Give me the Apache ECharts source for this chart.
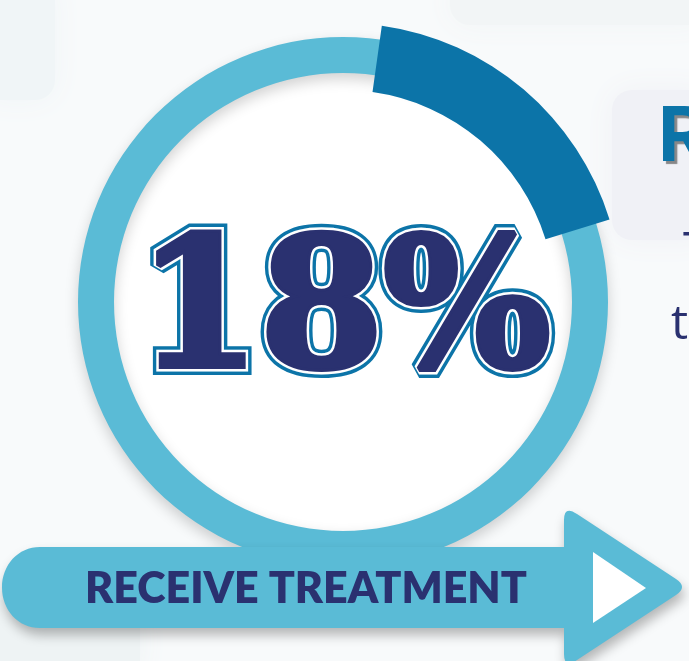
<!DOCTYPE html>
<html>
<head>
<meta charset="utf-8">
<script src="https://cdn.jsdelivr.net/npm/echarts@6/dist/echarts.min.js"></script>
<style>
html,body{margin:0;padding:0;background:#f7f9fa;}
#chart{width:689px;height:661px;}
</style>
</head>
<body>
<div id="chart"></div>
<script>
// ---- data ----
const shareValues = [18];            // % who receive treatment
const shareLabels = ['18%'];
const categoryLabels = ['RECEIVE TREATMENT'];
const sideHeading = ['RECEIVE'];
const sideText = ['T', 'treatment'];

const NAVY = '#2a3170';
const DARK = '#0c74a8';
const LIGHT = '#5abbd6';
const cx = 343, cy = 302;

echarts.graphic.registerShape('arrowBanner', echarts.graphic.extendShape({
  shape: {},
  buildPath: function (ctx) {
    ctx.moveTo(40, 547);
    ctx.lineTo(564, 547);
    ctx.lineTo(564, 520);
    ctx.quadraticCurveTo(564, 505, 577, 514);
    ctx.lineTo(676, 579);
    ctx.quadraticCurveTo(688, 587, 676, 595);
    ctx.lineTo(577, 660);
    ctx.quadraticCurveTo(564, 669, 564, 654);
    ctx.lineTo(564, 628);
    ctx.lineTo(40, 628);
    ctx.bezierCurveTo(18, 628, 2, 610, 2, 587.5);
    ctx.bezierCurveTo(2, 565, 18, 547, 40, 547);
    ctx.closePath();
  }
}));

const chart = echarts.init(document.getElementById('chart'));

const bigText = shareLabels[0];

function bigLayer(stroke, lw, z) {
  return {
    type: 'text', x: 344, y: 319, scaleX: 0.98, z: z,
    style: {
      text: bigText, x: 0, y: 0,
      font: 'bold 180px "DejaVu Serif"',
      fill: NAVY,
      stroke: stroke, lineWidth: lw,
      textAlign: 'center', textVerticalAlign: 'middle',
      align: 'center', verticalAlign: 'middle', lineJoin: 'round'
    }
  };
}

function softPatch(x, y, w, h, color) {
  return { type: 'rect', z: -5, shape: { x: x, y: y, width: w, height: h, r: 20 },
    style: { fill: color, shadowBlur: 30, shadowColor: color } };
}

chart.setOption({
  backgroundColor: '#f8fafb',
  animation: false,
  graphic: [
    // faint background patches
    softPatch(-20, -20, 75, 120, '#f0f5f7'),
    softPatch(450, -20, 260, 45, '#f2f5f6'),
    softPatch(612, 90, 100, 150, '#f0f1f6'),
    softPatch(-20, 600, 160, 80, '#eef3f4'),
    // inner white disk
    { type: 'circle', z: 1, shape: { cx: cx, cy: cy, r: 230 }, style: { fill: '#ffffff' } },
    // side texts (cut off)
    { type: 'text', z: 3, x: 658, y: 100,
      style: { text: sideHeading[0], font: 'bold 76px Inter', fill: DARK,
        textShadowColor: 'rgba(90,90,90,0.7)', textShadowOffsetX: 3, textShadowOffsetY: 3, textShadowBlur: 1,
        textVerticalAlign: 'top', verticalAlign: 'top' } },
    { type: 'text', z: 3, x: 683, y: 228,
      style: { text: sideText[0], font: '500 48px "Open Sans"', fill: NAVY, textVerticalAlign: 'top', verticalAlign: 'top' } },
    { type: 'text', z: 3, x: 671, y: 301,
      style: { text: sideText[1], font: '500 48px "Open Sans"', fill: NAVY, textVerticalAlign: 'top', verticalAlign: 'top' } },
    // arrow
    { type: 'arrowBanner', z: 10, shape: {},
      style: { fill: LIGHT, shadowBlur: 12, shadowOffsetY: 7, shadowOffsetX: 2, shadowColor: 'rgba(0,0,0,0.28)' } },
    { type: 'polygon', z: 11, shape: { points: [[593, 552], [646, 588], [593, 623]] }, style: { fill: '#ffffff' } },
    { type: 'text', z: 12, x: 306, y: 589,
      style: { text: categoryLabels[0], font: '800 43px Lato', fill: NAVY,
        textAlign: 'center', textVerticalAlign: 'middle', align: 'center', verticalAlign: 'middle' } },
    // big percentage with double outline
    bigLayer(DARK, 18, 20),
    bigLayer('#ffffff', 11, 21),
    bigLayer(NAVY, 6, 22)
  ],
  series: [
    {
      type: 'pie', silent: true, z: 2,
      center: [cx, cy], radius: [229, 265],
      label: { show: false }, labelLine: { show: false },
      emphasis: { disabled: true },
      itemStyle: { color: LIGHT, shadowBlur: 14, shadowOffsetY: 6, shadowColor: 'rgba(0,0,0,0.18)' },
      data: [{ value: 100 }]
    },
    {
      type: 'pie', silent: true, z: 3,
      center: [cx, cy], radius: [212, 279],
      startAngle: 82, clockwise: true,
      label: { show: false }, labelLine: { show: false },
      emphasis: { disabled: true },
      data: [
        { value: shareValues[0], itemStyle: { color: DARK } },
        { value: 100 - shareValues[0], itemStyle: { color: 'rgba(0,0,0,0)' } }
      ]
    }
  ]
});
</script>
</body>
</html>
